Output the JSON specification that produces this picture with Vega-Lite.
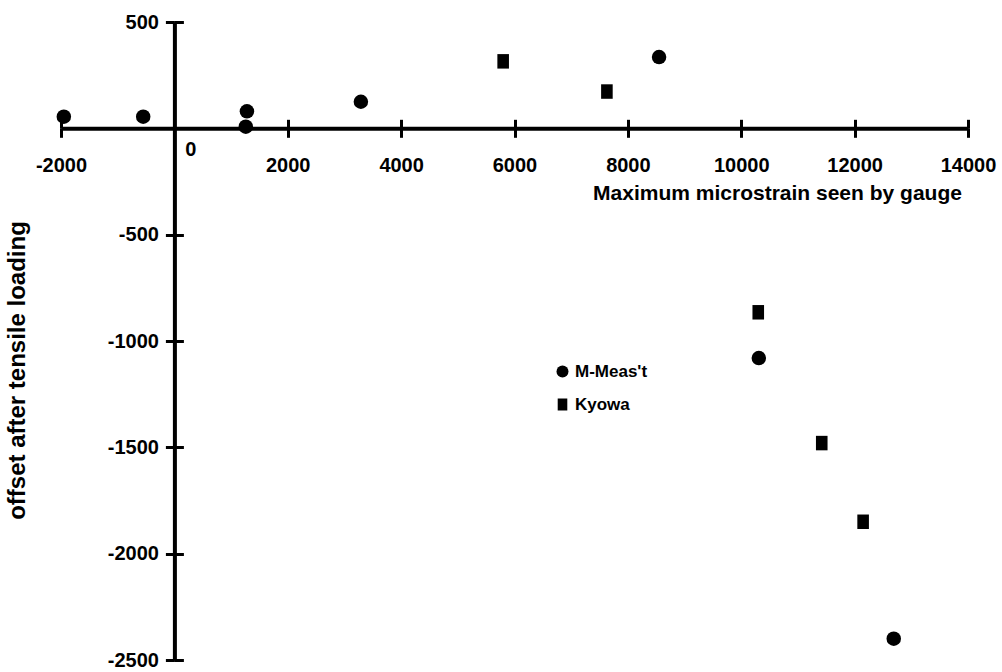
{
  "$schema": "https://vega.github.io/schema/vega-lite/v6.json",
  "width": 907,
  "height": 638,
  "autosize": {"type": "none"},
  "padding": {"left": 61, "top": 22, "right": 34, "bottom": 12},
  "background": "white",
  "config": {"view": {"stroke": null}, "font": "Liberation Sans"},
  "data": {
    "values": [
      {"series": "M-Meas't", "strain": -1950, "offset": 55},
      {"series": "M-Meas't", "strain": -550, "offset": 55},
      {"series": "M-Meas't", "strain": 1280, "offset": 80},
      {"series": "M-Meas't", "strain": 1260, "offset": 8},
      {"series": "M-Meas't", "strain": 3290, "offset": 125},
      {"series": "M-Meas't", "strain": 8550, "offset": 335},
      {"series": "M-Meas't", "strain": 10310, "offset": -1080},
      {"series": "M-Meas't", "strain": 12690, "offset": -2400},
      {"series": "Kyowa", "strain": 5800, "offset": 315},
      {"series": "Kyowa", "strain": 7630, "offset": 173},
      {"series": "Kyowa", "strain": 10300, "offset": -865},
      {"series": "Kyowa", "strain": 11420, "offset": -1480},
      {"series": "Kyowa", "strain": 12150, "offset": -1850}
    ]
  },
  "resolve": {"axis": {"x": "independent", "y": "independent"}},
  "layer": [
    {
      "mark": {"type": "point", "filled": true, "opacity": 1, "color": "black", "size": 210},
      "encoding": {
        "x": {
          "field": "strain",
          "type": "quantitative",
          "scale": {"domain": [-2000, 14000], "nice": false, "zero": false},
          "axis": {
            "orient": "bottom",
            "offset": -531.7,
            "values": [-2000, 0, 2000, 4000, 6000, 8000, 10000, 12000, 14000],
            "labelExpr": "'' + datum.value",
            "grid": false,
            "domainColor": "black",
            "domainWidth": 4,
            "tickColor": "black",
            "tickWidth": 3,
            "tickSize": 9,
            "labelFont": "Liberation Sans",
            "labelFontWeight": "bold",
            "labelFontSize": 20,
            "labelColor": "black",
            "labelFlush": false,
            "labelOverlap": false,
            "labelPadding": {"condition": {"test": "datum.value === 0", "value": 2}, "value": 18},
            "labelOffset": {"condition": {"test": "datum.value === 0", "value": 16}, "value": 0},
            "title": "Maximum microstrain seen by gauge",
            "titleFont": "Liberation Sans",
            "titleFontWeight": "bold",
            "titleFontSize": 21,
            "titleColor": "black",
            "titleAlign": "center",
            "titleBaseline": "middle",
            "titleX": 716,
            "titleY": 65
          }
        },
        "y": {
          "field": "offset",
          "type": "quantitative",
          "scale": {"domain": [-2500, 500], "nice": false, "zero": false},
          "axis": {
            "orient": "left",
            "offset": -113.4,
            "values": [-2500, -2000, -1500, -1000, -500, 500],
            "labelExpr": "'' + datum.value",
            "grid": false,
            "domainColor": "black",
            "domainWidth": 4,
            "tickColor": "black",
            "tickWidth": 3,
            "tickSize": 9,
            "labelFont": "Liberation Sans",
            "labelFontWeight": "bold",
            "labelFontSize": 20,
            "labelColor": "black",
            "labelFlush": false,
            "labelOverlap": false,
            "labelPadding": 7,
            "title": "offset after tensile loading",
            "titleFont": "Liberation Sans",
            "titleFontWeight": "bold",
            "titleFontSize": 24,
            "titleColor": "black",
            "titleAngle": 270,
            "titleAlign": "center",
            "titleBaseline": "middle",
            "titleX": -157,
            "titleY": 348
          }
        },
        "shape": {
          "field": "series",
          "type": "nominal",
          "scale": {"domain": ["M-Meas't", "Kyowa"], "range": ["circle", "M-0.8,-1H0.8V1H-0.8Z"]},
          "legend": {
            "orient": "none",
            "legendX": 493,
            "legendY": 341,
            "title": null,
            "padding": 0,
            "symbolSize": 144,
            "symbolFillColor": "black",
            "symbolStrokeColor": "black",
            "symbolStrokeWidth": 0,
            "symbolOpacity": 1,
            "labelFont": "Liberation Sans",
            "labelFontWeight": "bold",
            "labelFontSize": 17,
            "labelColor": "black",
            "labelOffset": 4,
            "rowPadding": 15
          }
        }
      }
    },
    {
      "mark": {"type": "point", "opacity": 0},
      "encoding": {
        "x": {
          "field": "strain",
          "type": "quantitative",
          "axis": {
            "orient": "top",
            "offset": -106.3,
            "values": [-2000, 2000, 4000, 6000, 8000, 10000, 12000, 14000],
            "grid": false,
            "domain": false,
            "labels": false,
            "title": null,
            "tickColor": "black",
            "tickWidth": 3,
            "tickSize": 9
          }
        },
        "y": {
          "field": "offset",
          "type": "quantitative",
          "axis": {
            "orient": "right",
            "offset": -793.6,
            "values": [-2500, -2000, -1500, -1000, -500, 500],
            "grid": false,
            "domain": false,
            "labels": false,
            "title": null,
            "tickColor": "black",
            "tickWidth": 3,
            "tickSize": 9
          }
        }
      }
    }
  ]
}
